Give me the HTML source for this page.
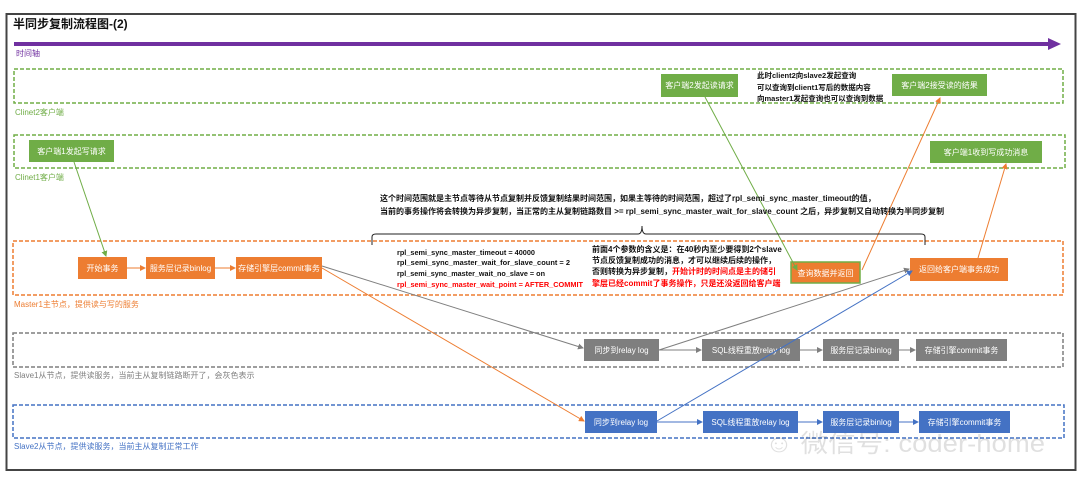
<!DOCTYPE html>
<html><head><meta charset="utf-8"><style>
html,body{margin:0;padding:0;background:#fff;}
svg{display:block;font-family:"Liberation Sans","Noto Sans CJK SC",sans-serif;}
</style></head><body>
<svg width="1080" height="491" viewBox="0 0 1080 491" xmlns="http://www.w3.org/2000/svg">
<defs>
<marker id="ag" markerWidth="6" markerHeight="6" refX="5" refY="3" orient="auto"><path d="M0,0 L6,3 L0,6z" fill="#70ad47"/></marker>
<marker id="ao" markerWidth="6" markerHeight="6" refX="5" refY="3" orient="auto"><path d="M0,0 L6,3 L0,6z" fill="#ed7d31"/></marker>
<marker id="ay" markerWidth="6" markerHeight="6" refX="5" refY="3" orient="auto"><path d="M0,0 L6,3 L0,6z" fill="#7f7f7f"/></marker>
<marker id="ab" markerWidth="6" markerHeight="6" refX="5" refY="3" orient="auto"><path d="M0,0 L6,3 L0,6z" fill="#4472c4"/></marker>
</defs>
<rect x="6.5" y="14" width="1069" height="456" fill="#fff" stroke="#444" stroke-width="2"/>
<text x="13" y="28" font-size="12" font-weight="bold" fill="#111">半同步复制流程图-(2)</text>
<line x1="14" y1="44" x2="1050" y2="44" stroke="#7030a0" stroke-width="4"/>
<path d="M1048,38 L1061,44 L1048,50z" fill="#7030a0"/>
<text x="16" y="56" font-size="8" fill="#7030a0">时间轴</text>

<g fill="none" stroke-width="1.5" stroke-dasharray="4,2">
<rect x="14" y="69" width="1049" height="34" stroke="#70ad47"/>
<rect x="14" y="135" width="1051" height="33" stroke="#70ad47"/>
<rect x="13" y="241" width="1050" height="54" stroke="#ed7d31"/>
<rect x="13" y="333" width="1050" height="34" stroke="#7f7f7f"/>
<rect x="13" y="405" width="1051" height="33" stroke="#4472c4"/>
</g>
<g font-size="8">
<text x="15" y="115" fill="#70ad47">Clinet2客户端</text>
<text x="15" y="180" fill="#70ad47">Clinet1客户端</text>
<text x="14" y="307" fill="#ed7d31">Master1主节点，提供读与写的服务</text>
<text x="14" y="378" fill="#7f7f7f">Slave1从节点，提供读服务，当前主从复制链路断开了，会灰色表示</text>
<text x="14" y="449" fill="#4472c4">Slave2从节点，提供读服务，当前主从复制正常工作</text>
</g>

<text x="765" y="452" font-size="25" fill="#000" fill-opacity="0.12" textLength="280" lengthAdjust="spacingAndGlyphs">☺ 微信号: coder-home</text>

<!-- nodes -->
<g font-size="8" fill="#fff" text-anchor="middle">
<rect x="29" y="140" width="85" height="22" fill="#70ad47"/><text x="71.5" y="154">客户端1发起写请求</text>
<rect x="661" y="74" width="77" height="23" fill="#70ad47"/><text x="699.5" y="88">客户端2发起读请求</text>
<rect x="892" y="74" width="95" height="22" fill="#70ad47"/><text x="939.5" y="88">客户端2接受读的结果</text>
<rect x="930" y="141" width="112" height="22" fill="#70ad47"/><text x="986" y="155">客户端1收到写成功消息</text>
<rect x="78" y="257" width="49" height="22" fill="#ed7d31"/><text x="102.5" y="271">开始事务</text>
<rect x="146" y="257" width="69" height="22" fill="#ed7d31"/><text x="180.5" y="271">服务层记录binlog</text>
<rect x="236" y="257" width="86" height="22" fill="#ed7d31"/><text x="279" y="271">存储引擎层commit事务</text>
<rect x="791" y="262" width="69" height="21" fill="#ed7d31" stroke="#70ad47" stroke-width="1.5"/><text x="825.5" y="276">查询数据并返回</text>
<rect x="910" y="258" width="98" height="23" fill="#ed7d31"/><text x="959" y="272">返回给客户端事务成功</text>
<rect x="584" y="339" width="75" height="22" fill="#7f7f7f"/><text x="621.5" y="353">同步到relay log</text>
<rect x="702" y="339" width="98" height="22" fill="#7f7f7f"/><text x="751" y="353">SQL线程重放relay log</text>
<rect x="823" y="339" width="76" height="22" fill="#7f7f7f"/><text x="861" y="353">服务层记录binlog</text>
<rect x="916" y="339" width="91" height="22" fill="#7f7f7f"/><text x="961.5" y="353">存储引擎commit事务</text>
<rect x="585" y="411" width="72" height="22" fill="#4472c4"/><text x="621" y="425">同步到relay log</text>
<rect x="703" y="411" width="95" height="22" fill="#4472c4"/><text x="750.5" y="425">SQL线程重放relay log</text>
<rect x="823" y="411" width="76" height="22" fill="#4472c4"/><text x="861" y="425">服务层记录binlog</text>
<rect x="919" y="411" width="91" height="22" fill="#4472c4"/><text x="964.5" y="425">存储引擎commit事务</text>
</g>

<!-- connectors -->
<g fill="none" stroke-width="1">
<line x1="127" y1="268" x2="145" y2="268" stroke="#ed7d31" marker-end="url(#ao)"/>
<line x1="215" y1="268" x2="235" y2="268" stroke="#ed7d31" marker-end="url(#ao)"/>
<line x1="659" y1="350" x2="701" y2="350" stroke="#7f7f7f" marker-end="url(#ay)"/>
<line x1="800" y1="350" x2="822" y2="350" stroke="#7f7f7f" marker-end="url(#ay)"/>
<line x1="899" y1="350" x2="915" y2="350" stroke="#7f7f7f" marker-end="url(#ay)"/>
<line x1="657" y1="422" x2="702" y2="422" stroke="#4472c4" marker-end="url(#ab)"/>
<line x1="798" y1="422" x2="822" y2="422" stroke="#4472c4" marker-end="url(#ab)"/>
<line x1="899" y1="422" x2="918" y2="422" stroke="#4472c4" marker-end="url(#ab)"/>
<line x1="74" y1="162" x2="106" y2="256" stroke="#70ad47" marker-end="url(#ag)"/>
<line x1="705" y1="97" x2="797" y2="270" stroke="#70ad47" marker-end="url(#ag)"/>
<line x1="862" y1="270" x2="940" y2="98" stroke="#ed7d31" marker-end="url(#ao)"/>
<line x1="978" y1="258" x2="1006" y2="164" stroke="#ed7d31" marker-end="url(#ao)"/>
<line x1="322" y1="266" x2="583" y2="348" stroke="#7f7f7f" marker-end="url(#ay)"/>
<line x1="322" y1="268" x2="584" y2="421" stroke="#ed7d31" marker-end="url(#ao)"/>
<line x1="659" y1="350" x2="909" y2="269" stroke="#7f7f7f" marker-end="url(#ay)"/>
<line x1="657" y1="421" x2="912" y2="271" stroke="#4472c4" marker-end="url(#ab)"/>
<path d="M372,245 L372,237 Q372,234 376,234 L638,234 Q642,234 642,226 Q642,234 646,234 L921,234 Q925,234 925,237 L925,245" stroke="#222" stroke-width="1"/>
</g>

<g font-size="8" font-weight="bold" fill="#111">
<text x="380" y="201">这个时间范围就是主节点等待从节点复制并反馈复制结果时间范围，如果主等待的时间范围，超过了rpl_semi_sync_master_timeout的值，</text>
<text x="380" y="214">当前的事务操作将会转换为异步复制，当正常的主从复制链路数目 &gt;= rpl_semi_sync_master_wait_for_slave_count 之后，异步复制又自动转换为半同步复制</text>
<text x="592" y="252">前面4个参数的含义是：在40秒内至少要得到2个slave</text>
<text x="592" y="263">节点反馈复制成功的消息，才可以继续后续的操作，</text>
<text x="592" y="274">否则转换为异步复制，<tspan fill="#ff0000">开始计时的时间点是主的储引</tspan></text>
<text x="592" y="286" fill="#ff0000">擎层已经commit了事务操作，只是还没返回给客户端</text>
</g>
<g font-size="7.5" font-weight="bold" fill="#111">
<text x="397" y="255" textLength="138" lengthAdjust="spacingAndGlyphs">rpl_semi_sync_master_timeout = 40000</text>
<text x="397" y="265" textLength="173" lengthAdjust="spacingAndGlyphs">rpl_semi_sync_master_wait_for_slave_count = 2</text>
<text x="397" y="276" textLength="148" lengthAdjust="spacingAndGlyphs">rpl_semi_sync_master_wait_no_slave = on</text>
<text x="397" y="287" fill="#ff0000" textLength="186" lengthAdjust="spacingAndGlyphs">rpl_semi_sync_master_wait_point = AFTER_COMMIT</text>
<text x="757" y="78">此时client2向slave2发起查询</text>
<text x="757" y="90">可以查询到client1写后的数据内容</text>
<text x="757" y="101">向master1发起查询也可以查询到数据</text>
</g>
</svg>
</body></html>
